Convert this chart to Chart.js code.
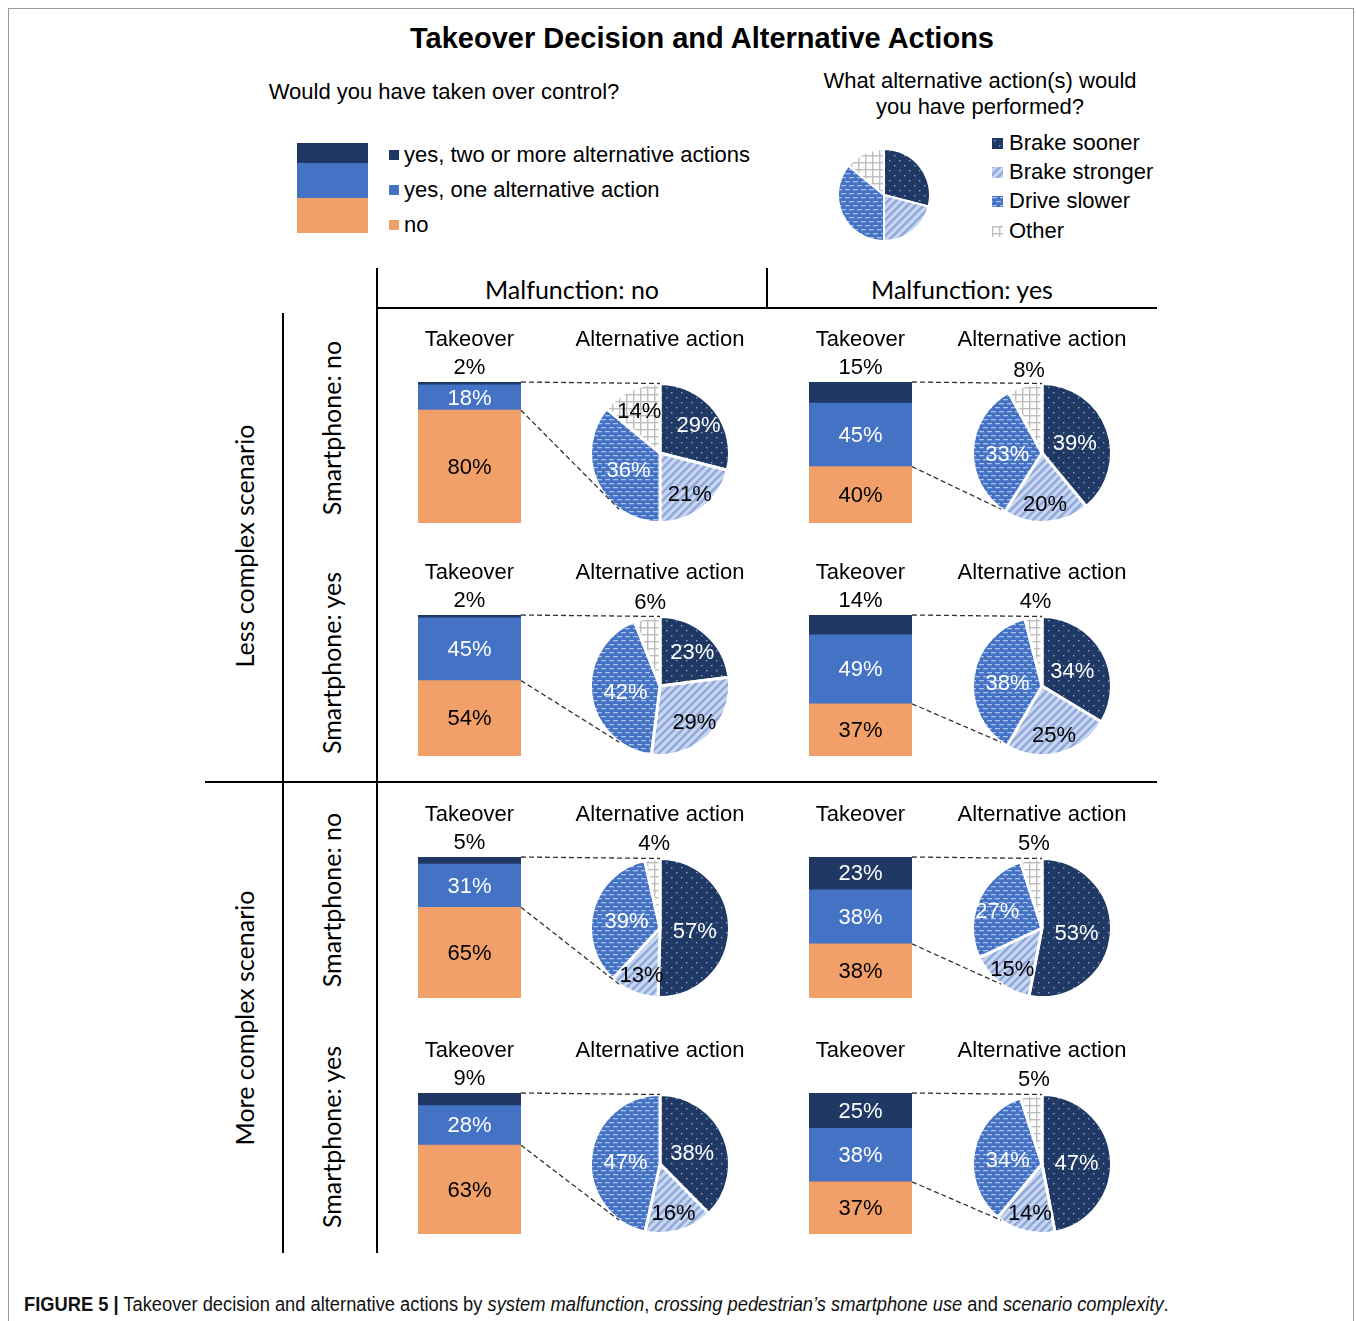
<!DOCTYPE html>
<html>
<head>
<meta charset="utf-8">
<title>Takeover Decision and Alternative Actions</title>
<script src="https://cdn.jsdelivr.net/npm/chart.js@4.4.1/dist/chart.umd.min.js"></script>
<style>
  html, body { margin: 0; padding: 0; background: #fff; }
  body { width: 1356px; height: 1321px; position: relative; overflow: hidden;
         font-family: "Liberation Sans", Arial, sans-serif; color: #000; }
  #stage { position: absolute; left: 0; top: 0; width: 1356px; height: 1321px; }
  .frame { position: absolute; left: 8px; top: 8px; width: 1344px; height: 1400px; border: 1px solid #9a9a9a; }
  .t { position: absolute; white-space: nowrap; line-height: 1; transform: translate(-50%, -50%); }
  .l { position: absolute; white-space: nowrap; line-height: 1; transform: translateY(-50%); }
  .cal { font-family: Lato, "Open Sans", sans-serif; font-size: 25px; }
  .rot { transform: translate(-50%, -50%) rotate(-90deg); }
  .rule { position: absolute; background: #000; }
  .sw { position: absolute; }
  .caption { position: absolute; left: 24px; top: 1304px; transform: translateY(-50%) scaleX(0.915); transform-origin: 0 50%;
             white-space: nowrap; font-family: "Liberation Sans", Arial, sans-serif; font-size: 20px; color: #111; }
  #links { position: absolute; left: 0; top: 0; pointer-events: none; }
</style>
</head>
<body>
<div id="stage">
  <div class="frame"></div>

  <div class="t" style="left:702px;top:38px;font-size:29px;font-weight:bold;">Takeover Decision and Alternative Actions</div>
  <div class="t" style="left:444px;top:92px;font-size:22px;">Would you have taken over control?</div>
  <div class="t" style="left:980px;top:81px;font-size:22px;">What alternative action(s) would</div>
  <div class="t" style="left:980px;top:107px;font-size:22px;">you have performed?</div>

  <!-- takeover legend: stacked swatch and entries -->
  <div class="sw" style="left:297px;top:143px;width:71px;height:20px;background:#1F3864;"></div>
  <div class="sw" style="left:297px;top:163px;width:71px;height:35px;background:#4472C4;"></div>
  <div class="sw" style="left:297px;top:198px;width:71px;height:35px;background:#F2A06A;"></div>
  <div id="takeoverLegend"></div>
  <div id="actionLegend"></div>

  <!-- table rules -->
  <div class="rule" style="left:376px;top:268px;width:2px;height:985px;"></div>
  <div class="rule" style="left:766px;top:268px;width:2px;height:40px;"></div>
  <div class="rule" style="left:376px;top:307px;width:781px;height:2px;"></div>
  <div class="rule" style="left:282px;top:313px;width:2px;height:940px;"></div>
  <div class="rule" style="left:205px;top:781px;width:952px;height:2px;"></div>

  <div id="headers"></div>

  <div class="caption"><b>FIGURE 5 |</b> Takeover decision and alternative actions by <i>system malfunction</i>, <i>crossing pedestrian’s smartphone use</i> and <i>scenario complexity</i>.</div>

  <canvas id="links" width="1356" height="1321"></canvas>
</div>

<script>
// ---- data -------------------------------------------------------------
const takeoverCategories = ['no', 'yes, one alternative action', 'yes, two or more alternative actions'];
const actionCategories = ['Brake sooner', 'Brake stronger', 'Drive slower', 'Other'];
const malfunctionLabels = ['Malfunction: no', 'Malfunction: yes'];
const smartphoneLabels = ['Smartphone: no', 'Smartphone: yes', 'Smartphone: no', 'Smartphone: yes'];
const scenarioLabels = ['Less complex scenario', 'More complex scenario'];

// one entry per cell, row by row:
// [less/phone no/malf no, less/phone no/malf yes, less/phone yes/malf no, less/phone yes/malf yes,
//  more/phone no/malf no, more/phone no/malf yes, more/phone yes/malf no, more/phone yes/malf yes]
const takeoverNo      = [80, 40, 54, 37, 65, 38, 63, 37];
const takeoverOne     = [18, 45, 45, 49, 31, 38, 28, 38];
const takeoverTwoPlus = [ 2, 15,  2, 14,  5, 23,  9, 25];

const brakeSooner   = [29, 39, 23, 34, 57, 53, 38, 47];
const brakeStronger = [21, 20, 29, 25, 13, 15, 16, 14];
const driveSlower   = [36, 33, 42, 38, 39, 27, 47, 34];
const otherAction   = [14,  8,  6,  4,  4,  5,  0,  5];

// small example pie shown next to the action legend
const legendPieValues = [29, 21, 36, 14];

// ---- layout -----------------------------------------------------------
const BAR_LEFT = [418, 809];
const BAR_W = 103;
const PIE_CX = [660, 1042];
const PIE_D = 142;
const PIE_CANVAS_W = 222;
const ROW_TOP = [382, 615, 857, 1093];
const PLOT_H = 141;
const HEAD = 72;          // space above each plot for title and outside labels
const TITLE_PAD_TOP = 17;
const FONT = '"Liberation Sans", Arial, sans-serif';

const NAVY = '#1F3864', BLUE = '#4472C4', ORANGE = '#F2A06A';
const BAR_COLORS = [ORANGE, BLUE, NAVY];

Chart.defaults.font.family = FONT;
Chart.defaults.animation = false;

// ---- fills --------------------------------------------------------------
function tile(w, h, paint) {
  const c = document.createElement('canvas');
  c.width = w; c.height = h;
  const g = c.getContext('2d');
  paint(g, w, h);
  return g.createPattern(c, 'repeat');
}
const ACTION_FILLS = [
  // dotted navy
  tile(10, 10, g => {
    g.fillStyle = NAVY; g.fillRect(0, 0, 10, 10);
    g.fillStyle = '#8FA3CC'; g.fillRect(2, 2, 1.4, 1.4); g.fillRect(7, 7, 1.4, 1.4);
  }),
  // light diagonal stripes
  tile(8, 8, g => {
    g.fillStyle = '#CBD7F0'; g.fillRect(0, 0, 8, 8);
    g.strokeStyle = '#8EA9DB'; g.lineWidth = 2.6; g.beginPath();
    g.moveTo(-2, 2); g.lineTo(2, -2);
    g.moveTo(-2, 10); g.lineTo(10, -2);
    g.moveTo(6, 10); g.lineTo(10, 6);
    g.stroke();
  }),
  // blue with short horizontal dashes
  tile(8, 8, g => {
    g.fillStyle = BLUE; g.fillRect(0, 0, 8, 8);
    g.fillStyle = '#A9C1EA';
    g.fillRect(0, 1, 5, 1.3); g.fillRect(4, 5, 4, 1.3); g.fillRect(0, 5, 1, 1.3);
  }),
  // grey grid on white
  tile(7, 7, g => {
    g.fillStyle = '#fff'; g.fillRect(0, 0, 7, 7);
    g.fillStyle = '#BDBDBD'; g.fillRect(0, 0, 7, 1.4); g.fillRect(0, 0, 1.4, 7);
  })
];
const ACTION_TEXT = ['#fff', '#000', '#fff', '#000'];

// ---- value labels plugin ---------------------------------------------
const valueLabels = {
  id: 'valueLabels',
  afterDatasetsDraw(chart) {
    const ctx = chart.ctx;
    ctx.save();
    ctx.font = '22px ' + FONT;
    ctx.textAlign = 'center';
    ctx.textBaseline = 'middle';
    if (chart.config.type === 'bar') {
      chart.data.datasets.forEach((ds, k) => {
        const v = ds.data[0];
        if (!v) return;
        const el = chart.getDatasetMeta(k).data[0];
        if (k === 2 && v < 20) {
          ctx.fillStyle = '#000';
          ctx.fillText(v + '%', el.x, el.y - 14);
        } else {
          ctx.fillStyle = k === 0 ? '#000' : '#fff';
          ctx.fillText(v + '%', el.x, (el.y + el.base) / 2 + 1);
        }
      });
    } else {
      const meta = chart.getDatasetMeta(0);
      const values = chart.data.datasets[0].data;
      const total = values.reduce((a, b) => a + b, 0);
      meta.data.forEach((arc, k) => {
        const v = values[k];
        if (!v) return;
        const frac = v / total;
        const mid = (arc.startAngle + arc.endAngle) / 2;
        const r = arc.outerRadius;
        let x, y;
        if (frac < 0.1) {
          x = arc.x + Math.cos(mid) * r * 0.75;
          y = arc.y + Math.sin(mid) * r - 15;
          ctx.fillStyle = '#000';
        } else {
          const d = r * (frac > 0.3 ? 0.5 : 0.7);
          x = arc.x + Math.cos(mid) * d;
          y = arc.y + Math.sin(mid) * d + 3;
          ctx.fillStyle = ACTION_TEXT[k];
        }
        ctx.fillText(v + '%', x, y);
      });
    }
    ctx.restore();
  }
};

// ---- helpers -----------------------------------------------------------
const stage = document.getElementById('stage');
function addCanvas(left, top, w, h) {
  const c = document.createElement('canvas');
  c.width = w; c.height = h;
  c.style.cssText = `position:absolute;left:${left}px;top:${top}px;width:${w}px;height:${h}px;`;
  stage.insertBefore(c, document.getElementById('links'));
  return c;
}
function addText(parent, cls, left, top, text, style) {
  const d = document.createElement('div');
  d.className = cls;
  d.style.left = left + 'px';
  d.style.top = top + 'px';
  if (style) d.style.cssText += style;
  d.textContent = text;
  parent.appendChild(d);
  return d;
}
function titleOpts(text) {
  return {
    display: true, text, color: '#000',
    font: { size: 22, weight: 'normal', family: FONT, lineHeight: 1.2 },
    padding: { top: 0, bottom: HEAD - TITLE_PAD_TOP - 22 * 1.2 }
  };
}

// ---- legends -------------------------------------------------------------
const takeoverLegend = document.getElementById('takeoverLegend');
[[NAVY, 2, 155], [BLUE, 1, 190], [ORANGE, 0, 225]].forEach(([color, k, y]) => {
  const sq = document.createElement('div');
  sq.className = 'sw';
  sq.style.cssText = `left:389px;top:${y - 5}px;width:10px;height:10px;background:${color};`;
  takeoverLegend.appendChild(sq);
  addText(takeoverLegend, 'l', 404, y, takeoverCategories[k], 'font-size:22px;');
});

const actionLegend = document.getElementById('actionLegend');
[143, 172, 201, 231].forEach((y, k) => {
  const sc = document.createElement('canvas');
  sc.width = 11; sc.height = 11;
  sc.style.cssText = `position:absolute;left:992px;top:${y - 5}px;`;
  const g = sc.getContext('2d');
  g.fillStyle = ACTION_FILLS[k];
  g.fillRect(0, 0, 11, 11);
  actionLegend.appendChild(sc);
  addText(actionLegend, 'l', 1009, y, actionCategories[k], 'font-size:22px;');
});

new Chart(addCanvas(837, 148, 94, 94), {
  type: 'pie',
  data: { labels: actionCategories, datasets: [{ data: legendPieValues, backgroundColor: ACTION_FILLS, borderColor: '#fff', borderWidth: 2 }] },
  options: { responsive: false, events: [], layout: { padding: 0 },
             plugins: { legend: { display: false }, tooltip: { enabled: false } } }
});

// ---- headers -------------------------------------------------------------
const headers = document.getElementById('headers');
addText(headers, 't cal', 572, 289, malfunctionLabels[0]);
addText(headers, 't cal', 962, 289, malfunctionLabels[1]);
addText(headers, 't cal rot', 244, 546, scenarioLabels[0]);
addText(headers, 't cal rot', 244, 1018, scenarioLabels[1]);
[428, 663, 900, 1137].forEach((y, r) => addText(headers, 't cal rot', 331, y, smartphoneLabels[r]));

// ---- panels --------------------------------------------------------------
const PADX = 30;
const panels = [];
for (let i = 0; i < 8; i++) {
  const row = Math.floor(i / 2), col = i % 2;
  const top = ROW_TOP[row];

  const bars = [takeoverNo[i], takeoverOne[i], takeoverTwoPlus[i]];
  const barChart = new Chart(addCanvas(BAR_LEFT[col] - PADX, top - HEAD, BAR_W + 2 * PADX, HEAD + PLOT_H), {
    type: 'bar',
    data: {
      labels: ['Takeover'],
      datasets: takeoverCategories.map((name, k) => ({
        label: name, data: [bars[k]], backgroundColor: BAR_COLORS[k], borderWidth: 0,
        barPercentage: 1, categoryPercentage: 1
      }))
    },
    options: {
      responsive: false, events: [],
      layout: { padding: { top: TITLE_PAD_TOP, left: PADX, right: PADX, bottom: 0 } },
      scales: {
        x: { stacked: true, display: false },
        y: { stacked: true, display: false, min: 0, max: bars.reduce((a, b) => a + b, 0) }
      },
      plugins: { legend: { display: false }, tooltip: { enabled: false }, title: titleOpts('Takeover') }
    },
    plugins: [valueLabels]
  });

  // the pie canvas is wider than tall, so the pie sits centred with a radius of PIE_D / 2
  const slices = [brakeSooner[i], brakeStronger[i], driveSlower[i], otherAction[i]];
  const pieChart = new Chart(addCanvas(PIE_CX[col] - PIE_CANVAS_W / 2, top - HEAD, PIE_CANVAS_W, HEAD + PIE_D), {
    type: 'pie',
    data: {
      labels: actionCategories,
      datasets: [{ data: slices, backgroundColor: ACTION_FILLS, borderColor: '#fff', borderWidth: 3 }]
    },
    options: {
      responsive: false, events: [],
      layout: { padding: { top: TITLE_PAD_TOP, left: 0, right: 0, bottom: 0 } },
      plugins: { legend: { display: false }, tooltip: { enabled: false }, title: titleOpts('Alternative action') }
    },
    plugins: [valueLabels]
  });
  panels.push({ barChart, pieChart });
}

// ---- dashed connectors from each bar's "yes" part to its pie ----------
function pagePos(chart, x, y) {
  const c = chart.canvas;
  return [parseFloat(c.style.left) + x, parseFloat(c.style.top) + y];
}
const links = document.getElementById('links').getContext('2d');
links.strokeStyle = '#333';
links.lineWidth = 1.3;
links.setLineDash([5, 3]);
const LINK_ANGLE = 216 * Math.PI / 180; // clockwise from 12 o'clock
panels.forEach(({ barChart, pieChart }) => {
  const topEl = barChart.getDatasetMeta(2).data[0];
  const noEl = barChart.getDatasetMeta(0).data[0];
  const right = topEl.x + topEl.width / 2;
  const arc = pieChart.getDatasetMeta(0).data[0];
  const r = arc.outerRadius;

  const [ax, ay] = pagePos(barChart, right, topEl.y);
  const [bx, by] = pagePos(pieChart, arc.x, arc.y - r);
  const [cx, cy] = pagePos(barChart, right, noEl.y);
  const [dx, dy] = pagePos(pieChart, arc.x + r * Math.sin(LINK_ANGLE), arc.y - r * Math.cos(LINK_ANGLE));

  links.beginPath();
  links.moveTo(ax, ay); links.lineTo(bx, by);
  links.moveTo(cx, cy); links.lineTo(dx, dy);
  links.stroke();
});
</script>
</body>
</html>
